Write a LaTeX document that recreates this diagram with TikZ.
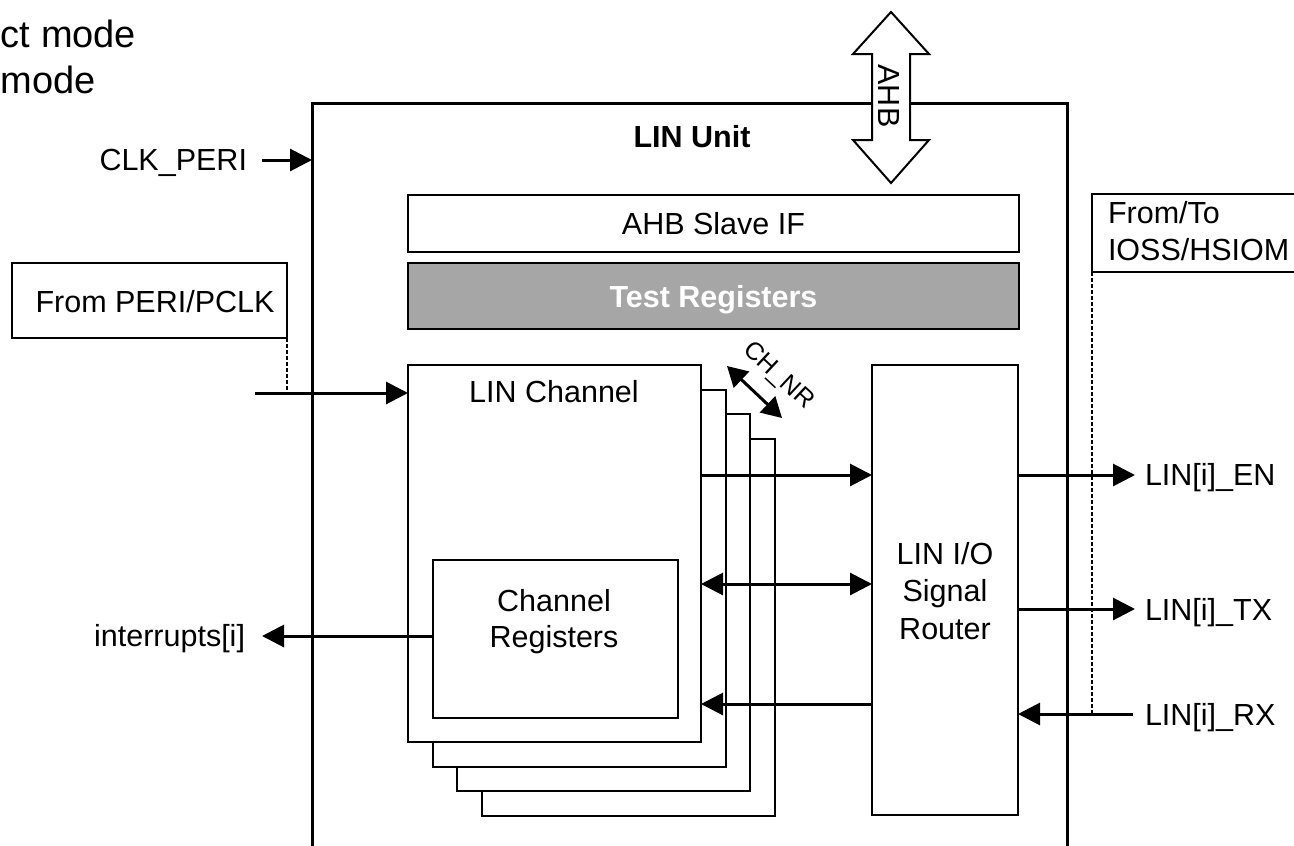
\documentclass[tikz,border=0pt]{standalone}
\usepackage{fontspec}
\setmainfont{Liberation Sans}
\usetikzlibrary{arrows.meta}
\definecolor{regGray}{RGB}{166,166,166}
\begin{document}
\begin{tikzpicture}[x=1pt,y=-1pt,
  every node/.style={inner sep=0pt, outer sep=0pt},
  f/.style={font=\fontsize{30.5}{37}\selectfont},
  fb/.style={font=\fontsize{30.5}{37}\selectfont\bfseries},
  box/.style={draw, line width=2pt, fill=white, text height=22pt, text depth=0pt, f},
  arr/.style={line width=3pt, -{Triangle[length=22pt,width=22pt]}},
  darr/.style={line width=3pt, {Triangle[length=22pt,width=22pt]}-{Triangle[length=22pt,width=22pt]}},
  sarr/.style={line width=3pt, {Triangle[length=20pt,width=22pt]}-{Triangle[length=20pt,width=22pt]}},
  dots/.style={line width=2.5pt, dash pattern=on 3.5pt off 2.5pt},
]
\useasboundingbox (0,0) rectangle (1294,846);
\clip (0,0) rectangle (1294,846);

% level coordinates
\coordinate (yEN) at (0,475);
\coordinate (yDD) at (0,584);
\coordinate (yTX) at (0,609);
\coordinate (yRXi) at (0,704);
\coordinate (yRXo) at (0,714);
\coordinate (yIRQ) at (0,636);
\coordinate (yCLK) at (0,160);

% text at top left
\node[font=\fontsize{38}{44}\selectfont, anchor=base west] (t1) at (1,47) {ct mode};
\node[font=\fontsize{38}{44}\selectfont, anchor=base west] (t2) at (1,93) {mode};

% LIN Unit outer box
\node[draw, line width=3pt, minimum width=755pt, minimum height=800pt, anchor=north west] (unit) at (312,103) {};
\node[fb, anchor=base] (unitlbl) at (692,147) {LIN Unit};

% AHB double arrow
\draw[line width=2pt, fill=white, line join=miter] (891,12) -- (929,54) -- (910,54) -- (910,140) -- (929,140) -- (891,183) -- (853,140) -- (872,140) -- (872,54) -- (853,54) -- cycle;
\node[f, rotate=-90] (ahb) at (889,96) {AHB};

% top boxes
\node[box, minimum width=611pt, minimum height=57pt] (ahbif) at (713.5,223.5) {AHB Slave IF};
\node[box, fill=regGray, text=white, fb, minimum width=611pt, minimum height=66pt] (testreg) at (713.5,296) {Test Registers};

% From PERI/PCLK
\node[box, minimum width=275pt, minimum height=75pt] (peri) at (149.5,300.5) {};
\node[f, anchor=base] (perilbl) at (155,312) {From PERI/PCLK};

% From/To IOSS/HSIOM
\node[box, anchor=north west, minimum width=260pt, minimum height=78pt] (ioss) at (1092,194) {};
\node[f, anchor=base west] (ioss1) at (1108,223) {From/To};
\node[f, anchor=base west] (ioss2) at (1108,260) {IOSS/HSIOM};

% CLK_PERI
\node[f, anchor=base east] (clk) at (247,170) {CLK\_PERI};
\coordinate (clkstart) at (262,160);
\draw[arr] (clkstart) -- (unit.west |- yCLK);

% LIN channel stack
\node[box, minimum width=293pt, minimum height=377pt] (ch4) at (628,627) {};
\node[box, minimum width=293pt, minimum height=377pt] (ch3) at (603.5,602.5) {};
\node[box, minimum width=293pt, minimum height=377pt] (ch2) at (579,578) {};
\node[box, minimum width=293pt, minimum height=377pt] (ch1) at (554.5,553.5) {};
\node[f, anchor=base] (chlbl) at (554,402) {LIN Channel};

\node[box, minimum width=245pt, minimum height=158pt] (chreg) at (555,639) {};
\node[f, anchor=base] (chreg1) at (554,611) {Channel};
\node[f, anchor=base] (chreg2) at (554,647) {Registers};

% CH_NR
\coordinate (chnrA) at (727,366);
\coordinate (chnrB) at (782,418);
\draw[sarr] (chnrA) -- (chnrB);
\node[font=\fontsize{25}{30}\selectfont, rotate=-43] (chnr) at (778,376) {CH\_NR};

% Router
\node[box, minimum width=146pt, minimum height=450pt] (router) at (945,590) {};
\node[f, anchor=base] (r1) at (945,564) {LIN I/O};
\node[f, anchor=base] (r2) at (945,601) {Signal};
\node[f, anchor=base] (r3) at (945,639) {Router};

% input clock arrow
\coordinate (pclkin) at (255,393);
\draw[dots] (peri.south east) -- (peri.south east |- pclkin);
\draw[arr] (pclkin) -- (ch1.west |- pclkin);

% interrupts
\coordinate (irqtip) at (262,636);
\node[f, anchor=base east] (irq) at (245,646) {interrupts[i]};
\draw[arr] (chreg.west |- yIRQ) -- (irqtip);

% channel <-> router
\draw[arr] (ch1.east |- yEN) -- (router.west |- yEN);
\draw[darr] (ch1.east |- yDD) -- (router.west |- yDD);
\draw[arr] (router.west |- yRXi) -- (ch1.east |- yRXi);

% router <-> outside
\coordinate (entip) at (1135,475);
\coordinate (txtip) at (1135,609);
\coordinate (rxstart) at (1133,714);
\draw[dots] (ioss.south west) -- (ioss.south west |- yRXo);
\draw[arr] (router.east |- yEN) -- (entip);
\draw[arr] (router.east |- yTX) -- (txtip);
\draw[arr] (rxstart) -- (router.east |- yRXo);
\node[f, anchor=base west] (en) at (1145,485) {LIN[i]\_EN};
\node[f, anchor=base west] (tx) at (1145,620) {LIN[i]\_TX};
\node[f, anchor=base west] (rx) at (1145,725) {LIN[i]\_RX};
\end{tikzpicture}
\end{document}
